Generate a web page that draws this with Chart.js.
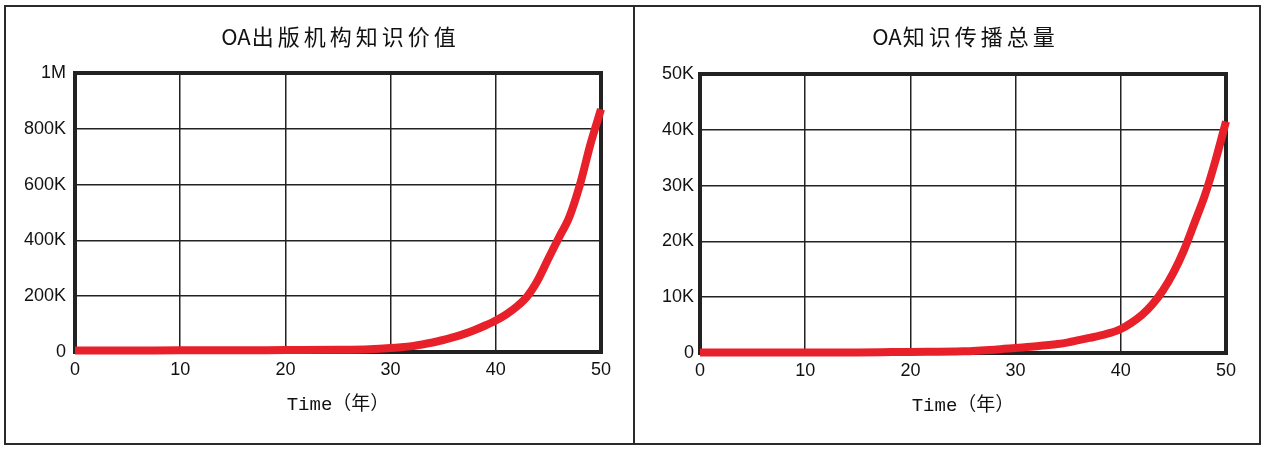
<!DOCTYPE html>
<html><head><meta charset="utf-8">
<script src="https://cdn.jsdelivr.net/npm/chart.js@4/dist/chart.umd.min.js"></script>
<style>
html,body{margin:0;padding:0;background:#fff;width:1268px;height:453px;overflow:hidden;}
.panel{position:absolute;top:5px;height:436px;border:2px solid #2a2a2a;box-sizing:content-box;}
#p1{left:4px;width:627px;}
#p2{left:635px;width:624px;border-left:none;}
canvas{position:absolute;}
#c1{left:6px;top:7px;}
#c2{left:635px;top:7px;}
</style>
</head><body>
<div class="panel" id="p1"></div>
<div class="panel" id="p2"></div>
<canvas id="c1" width="627" height="436"></canvas>
<canvas id="c2" width="624" height="436"></canvas>
<script>
// ---- data ----
const title1 = 'OA出版机构知识价值';
const title2 = 'OA知识传播总量';
const axisTitle = 'Time（年）';
const xTicks = [0, 10, 20, 30, 40, 50];

const years1 = [0,5,10,15,20,25,28,30,31,32,33,34,35,36,37,38,39,40,41,42,43,44,45,46,47,48,49,50];
const value1K = [5,5,6,6,7,8,10,14,17,21,27,34,43,53,65,79,95,113,135,163,200,258,335,410,485,600,745,870];
const yTickLabels1 = ['0','200K','400K','600K','800K','1M'];

const years2 = [0,5,10,15,20,25,28,30,32,34,35,36,37,38,39,40,41,42,43,44,45,46,47,48,49,50];
const value2K = [0.1,0.1,0.1,0.1,0.2,0.3,0.6,0.9,1.2,1.6,1.9,2.3,2.7,3.1,3.6,4.3,5.4,6.8,8.7,11.2,14.4,18.4,23.3,28.3,34.5,41.5];
const yTickLabels2 = ['0','10K','20K','30K','40K','50K'];

Chart.defaults.devicePixelRatio = 1;
Chart.defaults.font.family = '"Liberation Sans", Arial, sans-serif';
Chart.defaults.color = '#111';

const framePlugin = {
  id: 'frame',
  beforeDatasetsDraw(chart) {
    const {ctx, chartArea: a} = chart;
    ctx.save();
    ctx.strokeStyle = '#222';
    ctx.lineWidth = 4;
    ctx.strokeRect(a.left, a.top, a.right - a.left, a.bottom - a.top);
    ctx.restore();
  }
};
const titlePlugin = {
  id: 'spacedTitle',
  afterDraw(chart, args, opts) {
    const {ctx, chartArea: a} = chart;
    const text = opts.text;
    let k = 0;
    while (k < text.length && text.charCodeAt(k) < 128) k++;
    const latin = text.slice(0, k), cjk = text.slice(k);
    ctx.save();
    ctx.font = '22px "Noto Sans CJK SC", sans-serif';
    ctx.fillStyle = '#111';
    ctx.textAlign = 'left';
    ctx.textBaseline = 'middle';
    ctx.letterSpacing = '0px';
    const w1 = ctx.measureText(latin).width;
    ctx.letterSpacing = opts.spacing + 'px';
    const w2 = ctx.measureText(cjk).width;
    const total = w1 + w2;
    let x = (a.left + a.right) / 2 - total / 2 + opts.spacing / 2;
    ctx.letterSpacing = '0px';
    ctx.fillText(latin, x, opts.y);
    ctx.letterSpacing = opts.spacing + 'px';
    ctx.fillText(cjk, x + w1 + 1, opts.y);
    ctx.restore();
  }
};

function makeChart(id, years, vals, maxV, step, labels, L) {
  const pts = years.map((x, i) => ({x, y: vals[i]}));
  return new Chart(document.getElementById(id), {
    type: 'line',
    data: { datasets: [{
      data: pts,
      borderColor: '#e8202a',
      borderWidth: 8,
      pointRadius: 0,
      cubicInterpolationMode: 'monotone',
      borderCapStyle: 'butt',
      borderJoinStyle: 'round',
      clip: false
    }]},
    plugins: [framePlugin, titlePlugin],
    options: {
      responsive: false,
      animation: false,
      layout: { padding: { left: 0, right: L.padRight, top: L.padTop, bottom: 0 } },
      plugins: {
        legend: { display: false },
        tooltip: { enabled: false },
        title: { display: false },
        spacedTitle: { text: L.title, y: 30, spacing: 4 }
      },
      scales: {
        x: {
          type: 'linear', min: 0, max: 50,
          afterBuildTicks: s => { s.ticks = xTicks.map(v => ({value: v})); },
          afterFit: s => { s.height = L.xHeight; },
          grid: { color: '#222', lineWidth: 1.5, drawTicks: false },
          border: { display: false },
          ticks: { padding: 7, font: { size: 18 }, color: '#111', maxRotation: 0 },
          title: { display: true, text: axisTitle, color: '#111',
                   font: { family: '"Liberation Mono", "Noto Sans CJK SC", monospace', size: 19 },
                   padding: { top: 0, bottom: L.titlePad } }
        },
        y: {
          min: 0, max: maxV,
          afterBuildTicks: s => { s.ticks = labels.map((t, i) => ({value: i * step})); },
          afterFit: s => { s.width = L.yWidth; },
          grid: { color: '#222', lineWidth: 1.5, drawTicks: false },
          border: { display: false },
          ticks: { padding: L.yPad, font: { size: 18 }, color: '#111',
                   callback: (v, i) => labels[i] }
        }
      }
    }
  });
}

makeChart('c1', years1, value1K, 1000, 200, yTickLabels1,
  { title: title1, padRight: 32, padTop: 66, xHeight: 91, yWidth: 69, yPad: 9, titlePad: 27 });
makeChart('c2', years2, value2K, 50, 10, yTickLabels2,
  { title: title2, padRight: 33, padTop: 67, xHeight: 90, yWidth: 65, yPad: 6, titlePad: 26 });
</script>
</body></html>
